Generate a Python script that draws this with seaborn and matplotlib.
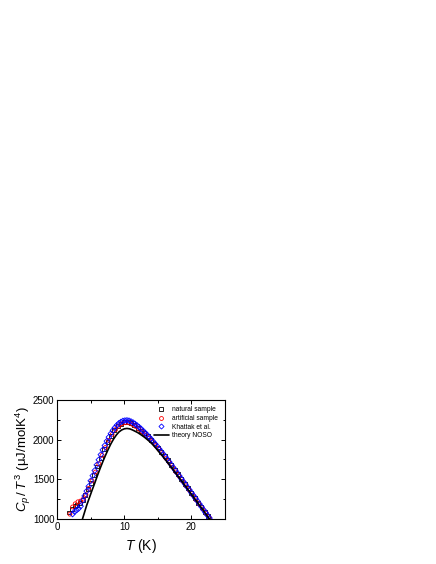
import matplotlib
matplotlib.use("Agg")
import matplotlib.pyplot as plt
from matplotlib.lines import Line2D
from matplotlib.ticker import MultipleLocator
import seaborn as sns

# ── data ──────────────────────────────────────────────────────────
T_nat = [1.8, 2.2, 2.6, 3.0, 3.4, 3.8, 4.2, 4.6, 5.0, 5.5, 6.0, 6.5, 7.0, 7.5, 8.0,
         8.5, 9.0, 9.5, 10.0, 10.5, 11.0, 11.5, 12.0, 12.5, 13.0, 13.5, 14.0, 14.5,
         15.0, 15.5, 16.0, 16.5, 17.0, 17.5, 18.0, 18.5, 19.0, 19.5, 20.0, 20.5,
         21.0, 21.5, 22.0, 22.5]
C_nat = [1080, 1130, 1160, 1180, 1200, 1240, 1300, 1380, 1450, 1550, 1660, 1770,
         1875, 1970, 2050, 2115, 2165, 2200, 2220, 2222, 2205, 2180, 2148, 2110,
         2080, 2040, 1995, 1950, 1900, 1848, 1792, 1738, 1680, 1620, 1560, 1500,
         1443, 1385, 1325, 1265, 1205, 1148, 1090, 1035]

T_art = [1.9, 2.3, 2.7, 3.1, 3.5, 3.9, 4.3, 4.7, 5.2, 5.7, 6.2, 6.7, 7.2, 7.7, 8.2,
         8.7, 9.2, 9.7, 10.2, 10.7, 11.2, 11.7, 12.2, 12.7, 13.2, 13.7, 14.2, 14.7,
         15.2, 15.7, 16.2, 16.7, 17.2, 17.7, 18.2, 18.7, 19.2, 19.7, 20.2, 20.7,
         21.2, 21.7, 22.2, 22.7]
C_art = [1060, 1150, 1190, 1215, 1225, 1250, 1305, 1385, 1480, 1590, 1695, 1800,
         1900, 1990, 2065, 2125, 2170, 2200, 2212, 2210, 2192, 2165, 2130, 2095,
         2058, 2015, 1972, 1925, 1875, 1820, 1765, 1710, 1652, 1592, 1535, 1475,
         1418, 1360, 1300, 1240, 1182, 1125, 1068, 1012]

T_kh = [2.3, 2.6, 2.9, 3.2, 3.5, 3.8, 4.1, 4.4, 4.7, 5.0, 5.3, 5.6, 5.9, 6.2, 6.5,
        6.8, 7.1, 7.4, 7.7, 8.0, 8.3, 8.6, 8.9, 9.2, 9.5, 9.8, 10.1, 10.4, 10.7,
        11.0, 11.3, 11.6, 11.9, 12.2, 12.5, 12.8, 13.1, 13.4, 13.7, 14.0, 14.3,
        14.6, 14.9, 15.2, 15.5, 15.8, 16.1, 16.4, 16.7, 17.0, 17.3, 17.6, 17.9,
        18.2, 18.5, 18.8, 19.1, 19.4, 19.7, 20.0, 20.3, 20.6, 20.9, 21.2, 21.5,
        21.8, 22.1, 22.4, 22.7]
C_kh = [1060, 1090, 1110, 1130, 1160, 1230, 1290, 1350, 1410, 1480, 1545, 1610,
        1680, 1745, 1810, 1870, 1925, 1980, 2030, 2075, 2115, 2150, 2180, 2205,
        2222, 2235, 2240, 2242, 2238, 2228, 2215, 2198, 2178, 2158, 2135, 2110,
        2085, 2060, 2032, 2005, 1975, 1945, 1915, 1882, 1850, 1818, 1785, 1752,
        1718, 1683, 1648, 1612, 1578, 1542, 1506, 1470, 1436, 1400, 1366, 1330,
        1295, 1260, 1225, 1188, 1152, 1115, 1080, 1045, 1010]

T_th = [3.78, 4.0, 4.4, 4.8, 5.2, 5.6, 6.0, 6.4, 6.8, 7.2, 7.6, 8.0, 8.4, 8.8,
        9.2, 9.6, 10.0, 10.4, 10.8, 11.2, 11.6, 12.0, 12.5, 13.0, 13.5, 14.0,
        14.5, 15.0, 15.5, 16.0, 16.5, 17.0, 17.5, 18.0, 18.5, 19.0, 19.5, 20.0,
        20.5, 21.0, 21.5, 22.0, 22.5, 22.7]
C_th = [1000, 1060, 1170, 1265, 1360, 1450, 1545, 1635, 1720, 1800, 1875, 1945,
        2005, 2055, 2095, 2120, 2135, 2140, 2135, 2122, 2105, 2088, 2060, 2030,
        1995, 1958, 1912, 1862, 1812, 1760, 1705, 1650, 1595, 1538, 1482, 1425,
        1368, 1310, 1252, 1195, 1138, 1080, 1022, 1000]

LABELS = ["natural sample", "artificial sample", "Khattak et al.", "theory NOSO"]

# ── style ─────────────────────────────────────────────────────────
sns.set_theme(style="ticks")
plt.rcParams["font.family"] = ["Liberation Sans", "DejaVu Sans"]
plt.rcParams["mathtext.fontset"] = "custom"
plt.rcParams["mathtext.rm"] = "Liberation Sans"
plt.rcParams["mathtext.it"] = "Liberation Sans:italic"
plt.rcParams["text.color"] = "black"
plt.rcParams["axes.labelcolor"] = "black"
plt.rcParams["xtick.color"] = "black"
plt.rcParams["ytick.color"] = "black"

fig = plt.figure(figsize=(4.36, 5.64), dpi=100)
ax = fig.add_axes([0.131, 0.080, 0.385, 0.211])

sns.scatterplot(x=T_nat, y=C_nat, ax=ax, marker="s", s=8, facecolors="none",
                edgecolor="black", linewidth=0.6, zorder=3)
sns.scatterplot(x=T_art, y=C_art, ax=ax, marker="o", s=8, facecolors="none",
                edgecolor="red", linewidth=0.6, zorder=3)
sns.scatterplot(x=T_kh, y=C_kh, ax=ax, marker="D", s=8, facecolors="none",
                edgecolor="blue", linewidth=0.6, zorder=4)
sns.lineplot(x=T_th, y=C_th, ax=ax, color="black", linewidth=1.2, sort=False, zorder=5)

ax.set_xlim(0, 25)
ax.set_ylim(1000, 2500)
ax.xaxis.set_major_locator(MultipleLocator(10))
ax.xaxis.set_minor_locator(MultipleLocator(5))
ax.yaxis.set_major_locator(MultipleLocator(500))
ax.yaxis.set_minor_locator(MultipleLocator(250))
ax.tick_params(which="both", direction="in", top=True, right=True, labelsize=7,
               width=0.7, pad=2)
ax.tick_params(which="major", length=3)
ax.tick_params(which="minor", length=1.8)
for sp in ax.spines.values():
    sp.set_linewidth(0.8)
    sp.set_color("black")

ax.set_xlabel("$T$ (K)", fontsize=10, labelpad=4)
ax.set_ylabel("$C_p\\,/\\,T^{\\,3}$ (μJ/molK$^4$)", fontsize=9.5, labelpad=0)

handles = [
    Line2D([], [], marker="s", ls="none", mfc="none", mec="black", ms=2.8, mew=0.6),
    Line2D([], [], marker="o", ls="none", mfc="none", mec="red", ms=2.8, mew=0.6),
    Line2D([], [], marker="D", ls="none", mfc="none", mec="blue", ms=2.6, mew=0.6),
    Line2D([], [], color="black", lw=1.2),
]
ax.legend(handles, LABELS, loc="upper right", frameon=False, fontsize=4.8,
          handlelength=2.2, handletextpad=0.5, labelspacing=0.25,
          borderaxespad=0.4, bbox_to_anchor=(0.99, 0.99))

plt.savefig("out.png", dpi=100)
